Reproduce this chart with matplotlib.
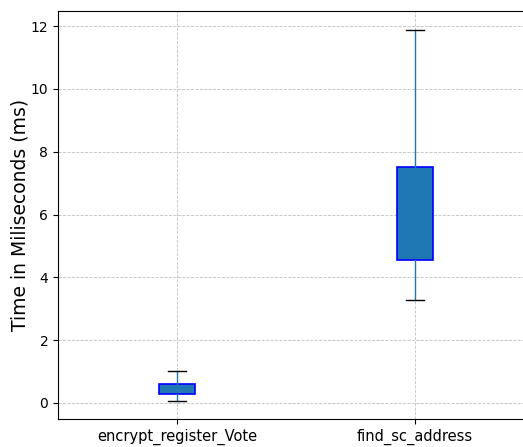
import matplotlib
matplotlib.use("Agg")
import matplotlib.pyplot as plt

# Timing summary per function (ms)
labels = ["encrypt_register_Vote", "find_sc_address"]
whisker_low = [0.06, 3.28]
q1 = [0.29, 4.55]
median = [0.42, 5.80]
q3 = [0.60, 7.51]
whisker_high = [1.02, 11.87]

stats = [
    {"label": lab, "whislo": lo, "q1": a, "med": m, "q3": b, "whishi": hi, "fliers": []}
    for lab, lo, a, m, b, hi in zip(labels, whisker_low, q1, median, q3, whisker_high)
]

fig = plt.figure(figsize=(5.23, 4.47), dpi=100)
ax = fig.add_axes([58 / 523, 28 / 447, 476 / 523, 408 / 447])

ax.bxp(
    stats,
    positions=[1, 2],
    widths=0.15,
    patch_artist=True,
    boxprops=dict(facecolor="#1f77b4", edgecolor="blue", linewidth=1.2),
    whiskerprops=dict(color="#1f77b4", linewidth=1.0),
    capprops=dict(color="black", linewidth=1.0),
    medianprops=dict(color="#1f77b4", linewidth=0),
    showfliers=False,
)

ax.set_xlim(0.5, 2.5)
ax.set_ylim(-0.51, 12.48)
ax.set_yticks([0, 2, 4, 6, 8, 10, 12])
ax.set_xticks([1, 2])
ax.set_xticklabels(labels, fontsize=10.5)
ax.tick_params(axis="y", labelsize=10)
ax.set_ylabel("Time in Miliseconds (ms)", fontsize=13.5, labelpad=1)
ax.grid(True, linestyle="--", linewidth=0.6, color="#c0c0c0")
ax.set_axisbelow(True)

fig.savefig("out.png", dpi=100)
